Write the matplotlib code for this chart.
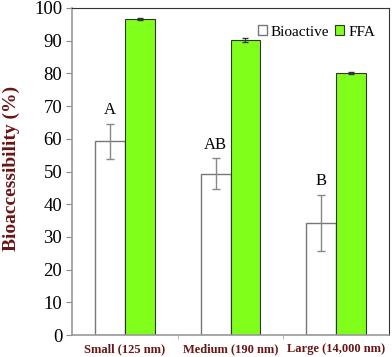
import matplotlib.pyplot as plt
import numpy as np

plt.rcParams['font.family'] = ['Liberation Serif', 'DejaVu Serif']

# data
categories = ["Small (125 nm)", "Medium (190 nm)", "Large (14,000 nm)"]
bioactive = [59.2, 49.3, 34.3]
bioactive_err = [5.3, 4.7, 8.5]
ffa = [96.5, 90.2, 80.0]
ffa_err = [0.3, 0.7, 0.3]
letters = ["A", "AB", "B"]

fig = plt.figure(figsize=(3.92, 3.57), dpi=100)
ax = fig.add_axes([72 / 392, 22 / 357, 317 / 392, 327 / 357])

x = np.arange(len(categories))
w = 0.283
dark_red = "#6b1414"

ax.bar(x - w / 2, bioactive, w, color="white", edgecolor="#777777", linewidth=1.0,
       yerr=bioactive_err, ecolor="#888888", capsize=3, error_kw={"elinewidth": 1.0},
       label="Bioactive")
ax.bar(x + w / 2, ffa, w, color="#80ff1a", edgecolor="#333333", linewidth=0.8,
       yerr=ffa_err, ecolor="#333333", capsize=2.5, error_kw={"elinewidth": 0.8},
       label="FFA")

for xi, v, e, t in zip(x, bioactive, bioactive_err, letters):
    ax.text(xi - w / 2, v + e + 1.8, t, ha="center", va="bottom", fontsize=12)

ax.set_xlim(-0.5, 2.5)
ax.set_ylim(0, 100)
ax.set_yticks(np.arange(0, 101, 10))
ax.tick_params(axis="y", labelsize=13.5, direction="out", length=4, color="#888888", pad=3)
ax.set_xticks(x)
ax.set_xticklabels(categories, fontsize=9, fontweight="bold", color=dark_red)
ax.tick_params(axis="x", length=0, pad=6)
ax.set_xticks([0.5, 1.5], minor=True)
ax.tick_params(axis="x", which="minor", length=3, color="#aaaaaa")

ax.set_ylabel("Bioaccessibility (%)", fontsize=14, fontweight="bold", color=dark_red)
ax.yaxis.set_label_coords(-0.165, 0.51)

for side in ["top", "right"]:
    ax.spines[side].set_color("#333333")
for side in ["left", "bottom"]:
    ax.spines[side].set_color("#999999")
    ax.spines[side].set_linewidth(1.2)

leg = ax.legend(loc="upper right", bbox_to_anchor=(0.985, 0.975), ncol=2, frameon=False,
                fontsize=11, handlelength=0.6, handleheight=0.6, handletextpad=0.25,
                columnspacing=0.4, borderaxespad=0.2)

fig.savefig("out.png", dpi=100)
